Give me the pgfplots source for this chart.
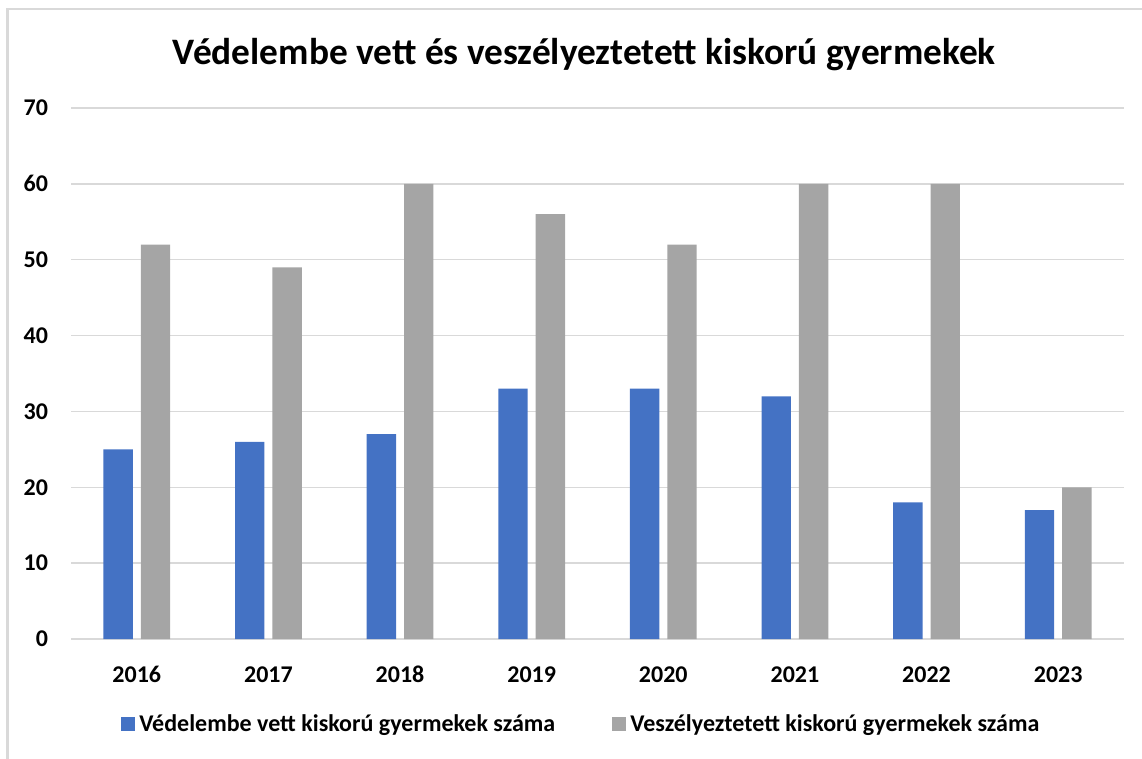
\documentclass[border=0pt]{standalone}
\usepackage{pgfplots}
\pgfplotsset{compat=1.18}
\usepackage{fontspec}
\setmainfont{Carlito}
\definecolor{cblue}{HTML}{4472C4}
\definecolor{cgray}{HTML}{A5A5A5}
\definecolor{cgrid}{HTML}{D9D9D9}
\begin{document}
\begin{tikzpicture}
\useasboundingbox (0pt,0pt) rectangle (856.5pt,568.5pt);
\draw[cgrid, line width=1.6pt] (5.6pt,-20pt) -- (5.6pt,561.6pt) -- (880pt,561.6pt);
\node[font=\bfseries\fontsize{28}{33}\selectfont, anchor=center] at (438.4pt,527.5pt) {Védelembe vett és veszélyeztetett kiskorú gyermekek};
\begin{axis}[
  at={(53.25pt,89.25pt)}, anchor=south west,
  scale only axis, width=789.75pt, height=398.25pt,
  xmin=-0.5, xmax=7.5, ymin=0, ymax=70,
  ybar=6pt, bar width=22pt,
  xtick=data, xticklabels={2016,2017,2018,2019,2020,2021,2022,2023},
  ytick={0,10,...,70},
  axis line style={draw=none},
  tick style={draw=none},
  ymajorgrids, grid style={cgrid, line width=1pt},
  /pgf/number format/assume math mode=true,
  ticklabel style={font=\bfseries\fontsize{18}{21}\selectfont},
  yticklabel style={inner sep=0pt, anchor=east, xshift=-17pt},
  xticklabel style={inner sep=0pt, anchor=base, yshift=-28pt},
  legend columns=2,
  legend style={at={(0.0475,-0.160)}, anchor=west, draw=none, fill=none,
    inner sep=0pt, font=\bfseries\fontsize{18}{21}\selectfont,
    nodes={inner sep=0pt, anchor=west},
    /tikz/every odd column/.append style={column sep=3pt},
    /tikz/every even column/.append style={column sep=42.75pt}},
  legend image code/.code={\fill[#1] (0pt,-5.25pt) rectangle (10.5pt,5.25pt);},
]
\addplot[fill=cblue, draw=none] coordinates {(0,25) (1,26) (2,27) (3,33) (4,33) (5,32) (6,18) (7,17)};
\addplot[fill=cgray, draw=none] coordinates {(0,52) (1,49) (2,60) (3,56) (4,52) (5,60) (6,60) (7,20)};
\legend{Védelembe vett kiskorú gyermekek száma, Veszélyeztetett kiskorú gyermekek száma}
\end{axis}
\end{tikzpicture}
\end{document}
